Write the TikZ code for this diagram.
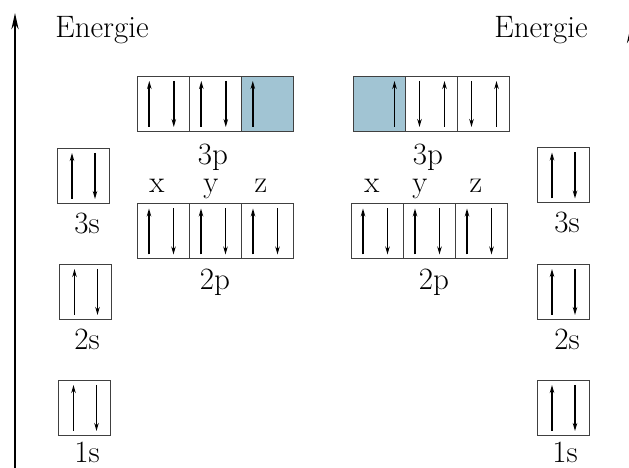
\documentclass[tikz,border=0pt]{standalone}
\usetikzlibrary{positioning,arrows.meta}
\definecolor{leer}{RGB}{161,196,211}
\tikzset{
  orb/.style={draw=black!75,line width=0.9pt,minimum width=52pt,minimum height=55pt,inner sep=0pt,outer sep=0pt},
  spin/.style={line width=1.8pt,-{Stealth[length=8pt,width=4.5pt]}},
  achse/.style={line width=2.5pt,-{Stealth[length=16pt,width=7pt]}},
  txt/.style={font=\fontsize{31}{34}\selectfont,anchor=base,inner sep=0pt},
}
\newcommand\hoch[2]{\draw[spin] ([xshift=#2pt,yshift=4pt]#1.south west) -- ([xshift=#2pt,yshift=-5pt]#1.north west);}
\newcommand\runter[2]{\draw[spin] ([xshift=#2pt,yshift=-5pt]#1.north west) -- ([xshift=#2pt,yshift=4pt]#1.south west);}
\begin{document}
\begin{tikzpicture}[x=1pt,y=1pt]
  \useasboundingbox (0,0) rectangle (629,468);
  \clip (0,0) rectangle (629,468);
  % Energieachsen
  \coordinate (achseL0) at (15,-2);
  \coordinate (achseL1) at (15,455);
  \coordinate (achseR0) at (630.5,300);
  \coordinate (achseR1) at (630.5,441);
  \draw[achse] (achseL0) -- (achseL1);
  \draw[achse] (achseR0) -- (achseR1);
  \node[txt] (enL) at (102,430) {Energie};
  \node[txt] (enR) at (541,430) {Energie};
  % linkes Atom
  \node[orb] (l1s) at (84.5,60.5) {};
  \node[orb] (l2s) at (85.5,176.5) {};
  \node[orb] (l3s) at (83,292.5) {};
  \node[orb] (l2px) at (163.5,237) {};
  \node[orb,right=0pt of l2px] (l2py) {};
  \node[orb,right=0pt of l2py] (l2pz) {};
  \node[orb] (l3px) at (163.8,364.5) {};
  \node[orb,right=0pt of l3px] (l3py) {};
  \node[orb,fill=leer,right=0pt of l3py] (l3pz) {};
  % rechtes Atom
  \node[orb] (r1s) at (563,60.5) {};
  \node[orb] (r2s) at (563,176.5) {};
  \node[orb] (r3s) at (563,293) {};
  \node[orb] (r2px) at (377.5,237) {};
  \node[orb,right=0pt of r2px] (r2py) {};
  \node[orb,right=0pt of r2py] (r2pz) {};
  \node[orb,fill=leer] (r3px) at (379.5,364.5) {};
  \node[orb,right=0pt of r3px] (r3py) {};
  \node[orb,right=0pt of r3py] (r3pz) {};
  % Spins
  \foreach \b in {l1s,l2s,l3s,r1s,r2s,r3s} {\hoch{\b}{15}\runter{\b}{38}}
  \foreach \b in {l2px,l2py,l2pz,l3px,l3py,r2px,r2py,r2pz} {\hoch{\b}{11.5}\runter{\b}{36}}
  \hoch{l3pz}{11}
  \foreach \b in {r3py,r3pz} {\runter{\b}{14}\hoch{\b}{39}}
  \hoch{r3px}{41}
  % Beschriftung
  \node[txt] (tl1s) at (87,5.5) {1s};
  \node[txt] (tl2s) at (87,118) {2s};
  \node[txt] (tl3s) at (87,234) {3s};
  \node[txt] (tl2p) at (215,178) {2p};
  \node[txt] (tl3p) at (213,303) {3p};
  \node[txt] (tlx) at (157,275) {x};
  \node[txt] (tly) at (211,275) {y};
  \node[txt] (tlz) at (261,275) {z};
  \node[txt] (tr1s) at (565,5.5) {1s};
  \node[txt] (tr2s) at (567,118) {2s};
  \node[txt] (tr3s) at (567,235) {3s};
  \node[txt] (tr2p) at (434,178) {2p};
  \node[txt] (tr3p) at (428,303) {3p};
  \node[txt] (trx) at (372,275) {x};
  \node[txt] (try) at (420,275) {y};
  \node[txt] (trz) at (476,275) {z};
\end{tikzpicture}
\end{document}
